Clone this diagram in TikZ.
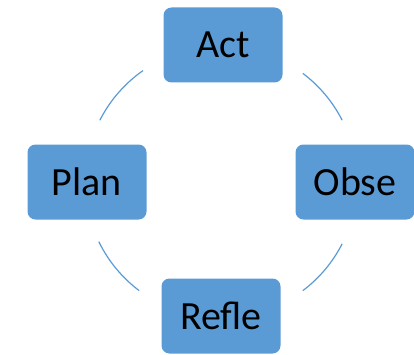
\documentclass[tikz,border=0pt]{standalone}
\usepackage{fontspec}
\setmainfont{Carlito}
\definecolor{accent}{HTML}{5B9BD5}

\begin{document}
\begin{tikzpicture}[x=1pt,y=1pt,
    stage/.style={fill=accent,rounded corners=8pt,minimum width=119pt,minimum height=75pt,
      inner sep=0pt,font=\fontsize{40}{48}\selectfont},
    cycleline/.style={accent,line width=1.2pt}]
    \useasboundingbox (0,0) rectangle (414,354);
    \coordinate (ctr) at (221,172);
    \node[stage] (act) at (223,309) {Act};
    \node[stage] (obse) at (355,172) {Obse};
    \node[stage] (plan) at (87,172) {Plan};
    \node[stage] (refle) at (221,38) {Refle};
    % arcs of the cycle between the boxes
    \foreach \a/\b in {27/53,125/153,206/233,307/333}
      \draw[cycleline] ([shift={(\a:136)}]ctr) arc (\a:\b:136);
  \end{tikzpicture}
\end{document}
